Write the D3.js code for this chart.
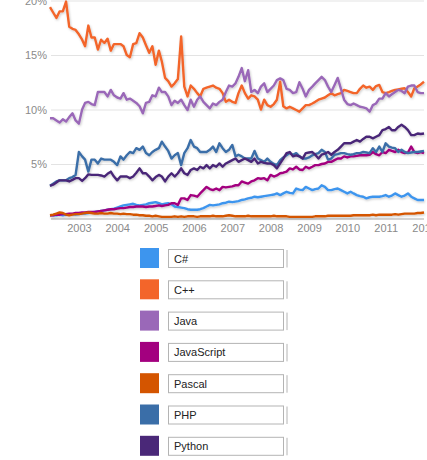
<!DOCTYPE html>
<html>
<head>
<meta charset="utf-8">
<script src="https://cdn.jsdelivr.net/npm/d3@7"></script>
<style>
    body { margin: 0; background: #fff; }
    svg { display: block; font-family: Arial, "Liberation Sans", sans-serif; }
    .grid line { stroke: #e3e3e3; }
    .grid text { fill: #8a8a8a; font-size: 11px; }
    .years text { fill: #8a8a8a; font-size: 11px; }
    .lang { fill: none; stroke-width: 2.4; stroke-linejoin: round; }
    .legend-text { font-size: 11px; fill: #222; }
</style>
</head>
<body>
<svg id="chart" width="427" height="460"></svg>
<script>
// monthly share (%), April 2002 .. January 2012
var languages = ["C#", "C++", "Java", "JavaScript", "Pascal", "PHP", "Python"];
var colors = ["#3d95ee", "#f3652a", "#9a68b8", "#a3007f", "#d45500", "#3a6ea8", "#4a2878"];
var yTicks = [5, 10, 15, 20];

var csharp = [
    0.3, 0.3, 0.3, 0.35, 0.3, 0.35, 0.35, 0.4, 0.35, 0.4,
    0.45, 0.45, 0.5, 0.55, 0.6, 0.65, 0.7, 0.75, 0.8, 0.85,
    0.9, 1.0, 1.1, 1.2, 1.25, 1.3, 1.35, 1.25, 1.2, 1.25,
    1.3, 1.4, 1.45, 1.5, 1.4, 1.3, 1.35, 1.4, 1.3, 1.1,
    1.05, 1.0, 0.95, 0.85, 0.8, 0.8, 0.8, 0.85, 0.95, 1.1,
    1.25, 1.2, 1.25, 1.3, 1.4, 1.45, 1.55, 1.5, 1.55, 1.6,
    1.7, 1.75, 1.85, 1.9, 2.0, 1.95, 2.0, 2.05, 2.1, 2.15,
    2.2, 2.3, 2.15, 2.3, 2.45, 2.35, 2.3, 2.75, 2.65, 2.6,
    2.9, 2.75, 2.6, 2.7, 2.75, 3.05, 2.9, 2.6, 2.6, 2.7,
    2.75, 2.6, 2.45, 2.3, 2.45, 2.3, 2.15, 2.05, 2.0, 1.85,
    1.95, 2.0, 2.0, 2.0, 2.05, 2.15, 2.0, 2.1, 2.3, 2.15,
    2.0, 2.1, 2.3, 2.0, 1.85, 1.7, 1.7, 1.7
];

var cpp = [
    19.4, 18.9, 18.4, 19.0, 19.0, 19.9, 17.6, 17.4, 17.3, 16.9,
    16.4, 15.8, 17.7, 16.6, 16.6, 15.5, 16.4, 16.1, 16.5, 15.4,
    16.0, 16.0, 16.0, 15.8, 15.0, 14.8, 16.0, 16.1, 17.0, 16.6,
    15.9, 15.2, 15.8, 14.1, 15.4, 14.4, 12.9, 12.6, 12.1, 12.4,
    12.8, 16.7, 12.1, 11.2, 12.2, 11.9, 11.5, 11.2, 11.9, 12.0,
    12.1, 12.2, 12.0, 11.9, 11.5, 10.7, 10.9, 10.7, 10.6, 11.5,
    12.2, 11.5, 11.0, 11.3, 11.2, 10.9, 10.0, 10.9, 10.4, 10.25,
    10.5, 10.9, 12.55, 10.3, 10.1, 10.25, 10.1, 9.95, 9.8, 10.1,
    10.4, 10.4, 10.55, 10.7, 10.9, 11.0, 11.1, 11.3, 11.5, 11.3,
    11.4, 11.5, 11.8, 11.7, 11.6, 11.5, 11.5, 11.9, 12.2, 12.0,
    12.1, 11.8, 12.15, 12.25, 11.6, 11.5, 11.6, 11.7, 11.8, 11.85,
    11.9, 11.95, 11.6, 11.2, 11.95, 12.1, 12.3, 12.55
];

var java = [
    9.2, 9.2, 9.0, 8.8, 9.1, 8.9, 9.3, 9.65, 9.0, 8.7,
    10.0, 10.6, 10.7, 10.5, 10.4, 11.6, 11.6, 11.6, 11.2, 11.8,
    11.3, 11.1, 11.0, 11.5, 10.9, 11.0, 10.8, 10.6, 10.3, 9.65,
    10.6, 10.7, 11.3, 11.2, 12.0, 11.6, 11.6, 11.2, 10.4, 10.8,
    10.6, 10.9, 10.4, 9.95, 10.9, 10.25, 10.9, 11.2, 10.7, 10.4,
    10.1, 10.55, 10.4, 10.7, 10.9, 11.6, 12.2, 12.1, 12.4, 13.0,
    13.8, 12.6, 13.6, 11.6, 11.8, 11.5, 12.1, 12.4, 11.6, 11.9,
    12.2, 12.7, 12.85, 12.7, 11.9, 11.8, 11.5, 11.6, 12.5, 11.9,
    11.2, 11.8, 12.1, 12.4, 12.7, 13.0, 12.7, 12.1, 11.6, 12.25,
    12.9, 11.9, 10.9, 10.5, 10.4, 10.55, 10.4, 10.25, 10.2, 10.1,
    9.8, 10.4, 10.55, 11.0, 11.0, 11.5, 11.2, 11.4, 11.6, 11.8,
    11.7, 11.5, 12.1, 12.2, 12.2, 11.6, 11.5, 11.5
];

var javascript = [
    0.3, 0.3, 0.35, 0.35, 0.4, 0.4, 0.45, 0.45, 0.5, 0.5,
    0.55, 0.55, 0.6, 0.6, 0.6, 0.65, 0.7, 0.75, 0.8, 0.85,
    0.85, 0.9, 0.95, 0.95, 1.0, 1.05, 1.05, 1.1, 1.1, 1.1,
    1.05, 1.1, 1.1, 1.15, 1.2, 1.15, 1.2, 1.25, 1.4, 1.4,
    1.25, 1.85, 1.85, 1.7, 2.15, 2.1, 2.0, 2.3, 2.6, 2.9,
    2.7, 2.6, 2.75, 2.6, 2.9, 2.85, 2.9, 2.95, 3.05, 3.05,
    3.4, 3.3, 3.2, 3.4, 3.5, 3.7, 3.65, 3.7, 3.5, 4.0,
    3.85, 3.95, 4.15, 4.2, 4.3, 4.6, 4.5, 4.75, 4.5, 4.45,
    4.75, 4.6, 4.75, 4.9, 4.9, 5.0, 5.05, 5.2, 5.2, 5.35,
    5.5, 5.5, 5.7, 5.6, 5.7, 5.7, 5.75, 5.8, 5.8, 5.8,
    5.85, 6.1, 5.9, 5.8, 6.1, 6.0, 6.3, 6.2, 6.1, 6.3,
    6.1, 6.0, 6.05, 6.6, 6.1, 6.0, 6.1, 6.0
];

var pascal = [
    0.3, 0.35, 0.45, 0.55, 0.5, 0.35, 0.3, 0.35, 0.4, 0.4,
    0.45, 0.5, 0.55, 0.5, 0.45, 0.45, 0.5, 0.45, 0.45, 0.5,
    0.45, 0.45, 0.4, 0.45, 0.4, 0.4, 0.35, 0.35, 0.3, 0.3,
    0.25, 0.25, 0.2, 0.25, 0.2, 0.15, 0.15, 0.15, 0.15, 0.2,
    0.15, 0.2, 0.15, 0.2, 0.2, 0.2, 0.15, 0.2, 0.2, 0.2,
    0.2, 0.25, 0.2, 0.2, 0.2, 0.25, 0.3, 0.25, 0.2, 0.2,
    0.2, 0.2, 0.25, 0.2, 0.2, 0.2, 0.2, 0.2, 0.2, 0.2,
    0.25, 0.2, 0.2, 0.2, 0.2, 0.15, 0.15, 0.15, 0.15, 0.15,
    0.15, 0.15, 0.15, 0.2, 0.2, 0.2, 0.2, 0.25, 0.25, 0.25,
    0.25, 0.25, 0.25, 0.25, 0.25, 0.3, 0.3, 0.3, 0.3, 0.3,
    0.3, 0.35, 0.3, 0.35, 0.35, 0.35, 0.35, 0.35, 0.4, 0.35,
    0.4, 0.45, 0.45, 0.45, 0.45, 0.5, 0.5, 0.55
];

var php = [
    3.0, 3.2, 3.4, 3.5, 3.5, 3.5, 3.7, 3.8, 4.0, 6.1,
    5.7, 5.4, 4.3, 5.4, 5.4, 5.05, 5.5, 5.4, 5.4, 5.4,
    5.2, 4.9, 5.7, 5.4, 5.8, 6.1, 6.0, 6.45, 6.3, 6.6,
    6.0, 5.8, 6.1, 6.3, 6.45, 7.05, 6.6, 6.2, 5.5, 5.8,
    6.0, 4.9, 6.0, 6.45, 7.2, 6.6, 6.45, 6.1, 6.1, 6.1,
    6.3, 6.6, 6.1, 6.9, 6.45, 6.1, 6.3, 6.75, 5.7, 5.85,
    5.7, 5.5, 5.5, 5.5, 6.2, 5.5, 5.35, 5.2, 5.5, 5.2,
    5.0, 4.9, 5.35, 5.6, 5.8, 6.0, 5.85, 6.0, 5.7, 5.5,
    5.5, 5.6, 5.8, 5.9, 6.0, 6.3, 6.1, 5.4, 5.5, 5.85,
    5.9, 6.0, 6.0, 5.9, 5.85, 5.9, 6.0, 6.0, 6.1, 6.05,
    6.0, 6.45, 6.1, 6.6, 6.1, 6.9, 6.6, 6.5, 6.45, 6.1,
    6.3, 6.1, 6.0, 6.05, 6.1, 6.1, 6.15, 6.2
];

var python = [
    3.0, 3.1, 3.3, 3.5, 3.5, 3.5, 3.4, 3.55, 3.7, 3.7,
    3.45, 3.7, 4.05, 4.0, 4.0, 4.0, 3.95, 3.85, 4.1, 4.3,
    3.85, 3.5, 3.85, 3.85, 3.85, 3.7, 3.85, 4.2, 4.6, 4.15,
    4.15, 3.85, 3.5, 3.8, 4.0, 3.85, 3.4, 3.85, 4.15, 3.85,
    4.15, 4.6, 4.15, 4.0, 4.45, 4.6, 4.45, 4.75, 4.6, 4.9,
    4.6, 4.9, 4.75, 5.05, 4.75, 5.05, 5.2, 5.35, 5.5, 5.2,
    5.35, 5.5, 5.35, 5.2, 5.5, 5.05, 5.2, 5.1, 5.05, 5.05,
    4.9, 4.6, 5.05, 5.5, 6.0, 6.1, 5.7, 5.8, 5.7, 5.5,
    6.0, 6.05, 6.1, 5.85, 5.5, 5.85, 5.95, 6.1, 5.85, 6.1,
    6.3, 6.6, 6.9, 6.9, 6.9, 7.05, 7.2, 7.05, 7.3, 7.5,
    7.5, 7.35, 7.5, 7.65, 8.1, 8.2, 8.4, 8.1, 8.1, 8.4,
    8.6, 8.4, 8.1, 7.65, 7.65, 7.8, 7.75, 7.8
];

var series = [csharp, cpp, java, javascript, pascal, php, python];
var months = d3.timeMonth.range(new Date(2002, 3, 1), new Date(2012, 1, 1));


function LangChart(svgId) {
    var self = this;

    self.svg = d3.select(svgId);
    self.init();
}

LangChart.prototype.init = function () {
    var self = this;

    self.scaleX = d3.scaleTime()
        .domain([months[0], months[months.length - 1]])
        .range([50, 424]);

    self.scaleY = d3.scaleLinear()
        .domain([0, 20])
        .range([218.5, 0.5]);

    var defs = self.svg.append('defs');
    var shadow = defs.append('filter')
        .attr('id', 'shadow')
        .attr('x', '-5%').attr('y', '-5%')
        .attr('width', '110%').attr('height', '110%');
    shadow.append('feDropShadow')
        .attr('dx', 0.8).attr('dy', 1.2)
        .attr('stdDeviation', 0.9)
        .attr('flood-color', '#000')
        .attr('flood-opacity', 0.22);
};

LangChart.prototype.drawAxes = function () {
    var self = this;

    var yAxis = d3.axisLeft(self.scaleY)
        .tickValues(yTicks)
        .tickSize(-373)
        .tickPadding(4)
        .tickFormat(function (d) { return d + '%'; });

    var gy = self.svg.append('g')
        .classed('grid', true)
        .attr('transform', 'translate(51,0)')
        .call(yAxis);
    gy.select('.domain').remove();
    gy.selectAll('text').attr('dy', '0.36em');

    // baseline at 0%
    self.svg.append('line')
        .attr('x1', 51).attr('x2', 424)
        .attr('y1', self.scaleY(0) + 0.5).attr('y2', self.scaleY(0) + 0.5)
        .attr('stroke', '#d4d4d4')
        .attr('stroke-width', 2);

    var xAxis = d3.axisBottom(self.scaleX)
        .ticks(d3.timeYear.every(1))
        .tickSize(0)
        .tickPadding(6)
        .tickFormat(d3.timeFormat('%Y'));

    var gx = self.svg.append('g')
        .classed('years', true)
        .attr('transform', 'translate(0,' + self.scaleY(0) + ')')
        .call(xAxis);
    gx.select('.domain').remove();
};

LangChart.prototype.drawLines = function () {
    var self = this;

    var line = d3.line()
        .x(function (d, i) { return self.scaleX(months[i]); })
        .y(function (d) { return self.scaleY(d); });

    self.svg.append('g')
        .attr('filter', 'url(#shadow)')
        .selectAll('.lang')
        .data(series)
        .enter().append('path')
        .classed('lang', true)
        .attr('stroke', function (d, i) { return colors[i]; })
        .attr('d', line);
};

LangChart.prototype.drawLegend = function () {
    var self = this;

    var rows = self.svg.append('g')
        .selectAll('.legend-row')
        .data(languages)
        .enter().append('g')
        .classed('legend-row', true)
        .attr('transform', function (d, i) {
            return 'translate(0,' + (248 + i * 31.3) + ')';
        });

    rows.append('rect')
        .attr('x', 140).attr('y', 0)
        .attr('width', 19).attr('height', 20)
        .attr('fill', function (d, i) { return colors[i]; });

    rows.append('rect')
        .attr('x', 168.5).attr('y', 1.5)
        .attr('width', 115).attr('height', 18)
        .attr('fill', '#fff')
        .attr('stroke', '#b4b4b4');

    rows.append('path')
        .attr('d', 'M287,2V19.5')
        .attr('stroke', '#b4b4b4')
        .attr('fill', 'none');

    rows.append('text')
        .classed('legend-text', true)
        .attr('x', 174)
        .attr('y', 14.5)
        .text(function (d) { return d; });
};

var chart = new LangChart('#chart');
chart.drawAxes();
chart.drawLines();
chart.drawLegend();
</script>
</body>
</html>
